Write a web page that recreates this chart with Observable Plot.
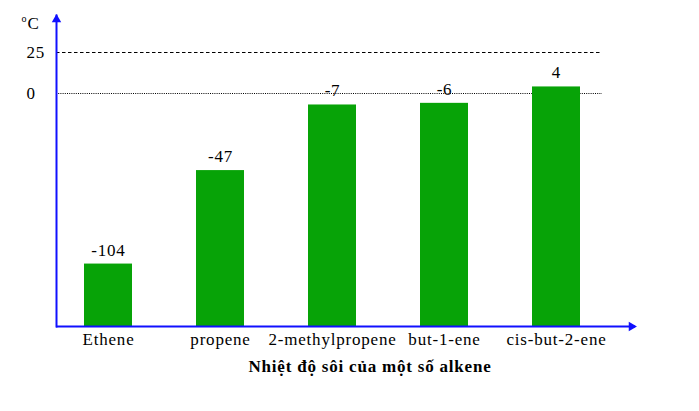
<!DOCTYPE html>
<html>
<head>
<meta charset="utf-8">
<script src="https://cdn.jsdelivr.net/npm/d3@7"></script>
<script src="https://cdn.jsdelivr.net/npm/@observablehq/plot@0.6"></script>
<style>
  html, body { margin: 0; padding: 0; background: white; }
  svg text { font-family: "Liberation Serif", "Times New Roman", serif; letter-spacing: 0.8px; }
</style>
</head>
<body>
<div id="chart"></div>
<script>
const categories = ["Ethene", "propene", "2-methylpropene", "but-1-ene", "cis-but-2-ene"];
const values = [-104, -47, -7, -6, 4];
const yTicks = [0, 25];
const title = "Nhiệt độ sôi của một số alkene";
const unitLabel = "C";
const unitSup = "o";

const yMin = -142.07, yMax = 47.56;
const data = categories.map((name, i) => ({name, value: values[i]}));
const blue = "#1010ff";
const serif = "Liberation Serif";

const chart = Plot.plot({
  width: 699,
  height: 411,
  marginLeft: 56,
  marginRight: 64,
  marginTop: 15,
  marginBottom: 85,
  style: "font-family: 'Liberation Serif', serif; font-size: 17px; background: white; color: black;",
  x: {domain: categories, range: [84, 581], paddingInner: 0.57, paddingOuter: 0, axis: null},
  y: {domain: [yMin, yMax], axis: null},
  marks: [
    Plot.ruleY([25], {stroke: "black", strokeWidth: 1.2, strokeDasharray: "3.5,2.5", insetRight: 33}),
    Plot.ruleY([0], {stroke: "black", strokeWidth: 1.2, strokeDasharray: "1,1.2", insetRight: 33}),
    Plot.barY(data, {x: "name", y1: () => yMin, y2: "value", fill: "#07a307"}),
    Plot.text(data, {x: "name", y: "value", text: d => String(d.value), dy: -14, fontSize: 17, fontFamily: serif, fill: "black"}),
    Plot.frame({anchor: "left", stroke: blue, strokeWidth: 2}),
    Plot.ruleY([yMin], {stroke: blue, strokeWidth: 2}),
    Plot.dot([0], {frameAnchor: "top-left", symbol: "triangle2", r: 4.5, fill: blue, stroke: "none", dy: 4}),
    Plot.dot([0], {frameAnchor: "bottom-right", symbol: "triangle2", r: 4.5, fill: blue, stroke: "none", rotate: 90, dx: -4}),
    Plot.axisX({tickSize: 0, tickPadding: 6, fontSize: 17, fontFamily: serif, label: null, fill: "black"}),
    Plot.text(yTicks, {y: d => d, frameAnchor: "left", text: d => String(d), dx: -30, textAnchor: "start", fontSize: 17, fontFamily: serif, fill: "black"}),
    Plot.text([unitSup], {frameAnchor: "top-left", text: d => d, dx: -35, dy: -1, textAnchor: "start", lineAnchor: "top", fontSize: 10, fontFamily: serif, fill: "black"}),
    Plot.text([unitLabel], {frameAnchor: "top-left", text: d => d, dx: -29, dy: 1, textAnchor: "start", lineAnchor: "top", fontSize: 17, fontFamily: serif, fill: "black"}),
    Plot.text([title], {frameAnchor: "bottom", text: d => d, dx: 24, dy: 40, textAnchor: "middle", lineAnchor: "middle", fontSize: 17, fontWeight: "bold", fontFamily: serif, fill: "black"})
  ]
});
document.getElementById("chart").appendChild(chart);
</script>
</body>
</html>
